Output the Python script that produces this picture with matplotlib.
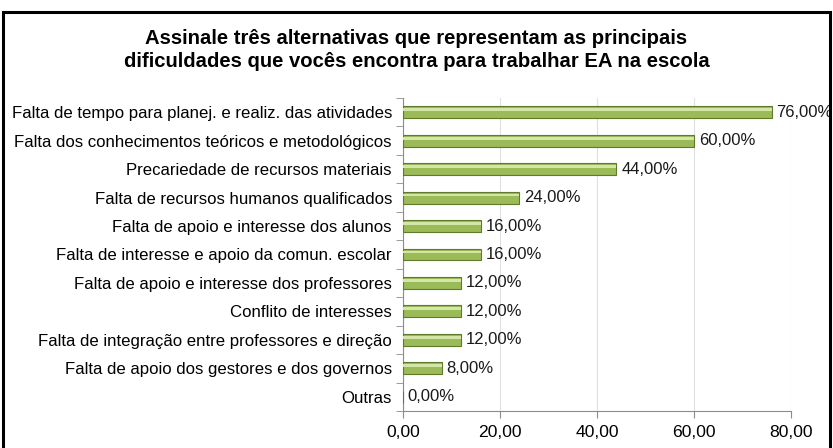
import matplotlib
matplotlib.use('Agg')
import matplotlib.pyplot as plt
from matplotlib.patches import Rectangle
from matplotlib.ticker import FuncFormatter, FixedLocator

plt.rcParams['font.family'] = ['Liberation Sans', 'DejaVu Sans']

title = ("Assinale três alternativas que representam as principais\n"
         "dificuldades que vocês encontra para trabalhar EA na escola")

categories = [
    "Falta de tempo para planej. e realiz. das atividades",
    "Falta dos conhecimentos teóricos e metodológicos",
    "Precariedade de recursos materiais",
    "Falta de recursos humanos qualificados",
    "Falta de apoio e interesse dos alunos",
    "Falta de interesse e apoio da comun. escolar",
    "Falta de apoio e interesse dos professores",
    "Conflito de interesses",
    "Falta de integração entre professores e direção",
    "Falta de apoio dos gestores e dos governos",
    "Outras",
]
values = [76, 60, 44, 24, 16, 16, 12, 12, 12, 8, 0]
x_ticks = [0, 20, 40, 60, 80]

fig = plt.figure(figsize=(8.33, 4.48), dpi=100)
ax = fig.add_axes([0.4838, 0.0826, 0.4658, 0.6987])

pos = list(range(len(categories)))

# main bar plus a light highlight strip on top to mimic the bevel look
ax.barh(pos, values, height=0.42, color='#9bbb59', edgecolor='#5f7a2a',
        linewidth=0.8, zorder=3)
ax.barh([p - 0.09 for p in pos], values, height=0.1, color='#d4e6a5',
        linewidth=0, zorder=4)

for p, v in zip(pos, values):
    ax.text(v + 1.0, p, f"{v:.2f}%".replace('.', ','), va='center', ha='left',
            fontsize=12, color='#1a1a1a', zorder=5)

ax.set_ylim(len(categories) - 0.5, -0.5)
ax.set_yticks(pos)
ax.set_yticklabels(categories, fontsize=12.1)
ax.yaxis.set_minor_locator(FixedLocator([p - 0.5 for p in pos] + [len(pos) - 0.5]))
ax.tick_params(axis='y', which='major', length=0, pad=8)
ax.tick_params(axis='y', which='minor', length=5, color='#8c8c8c')

ax.set_xlim(0, 80)
ax.set_xticks(x_ticks)
ax.xaxis.set_major_formatter(FuncFormatter(lambda v, _: f"{v:.2f}".replace('.', ',')))
ax.tick_params(axis='x', length=5, color='#8c8c8c', labelsize=12.6, pad=5)
ax.grid(axis='x', color='#e0e0e0', linewidth=0.8, zorder=0)

for side in ['top', 'right']:
    ax.spines[side].set_visible(False)
for side in ['left', 'bottom']:
    ax.spines[side].set_color('#8c8c8c')

fig.text(0.5, 0.888, title, ha='center', va='center', fontsize=14.6,
         fontweight='bold', linespacing=1.25)

# chart border
fig.patches.append(Rectangle((3 / 833, -0.01), 827 / 833, 1 - 12 / 448 + 0.01,
                             transform=fig.transFigure, fill=False,
                             edgecolor='black', linewidth=2.2))

fig.savefig('out.png', dpi=100)
